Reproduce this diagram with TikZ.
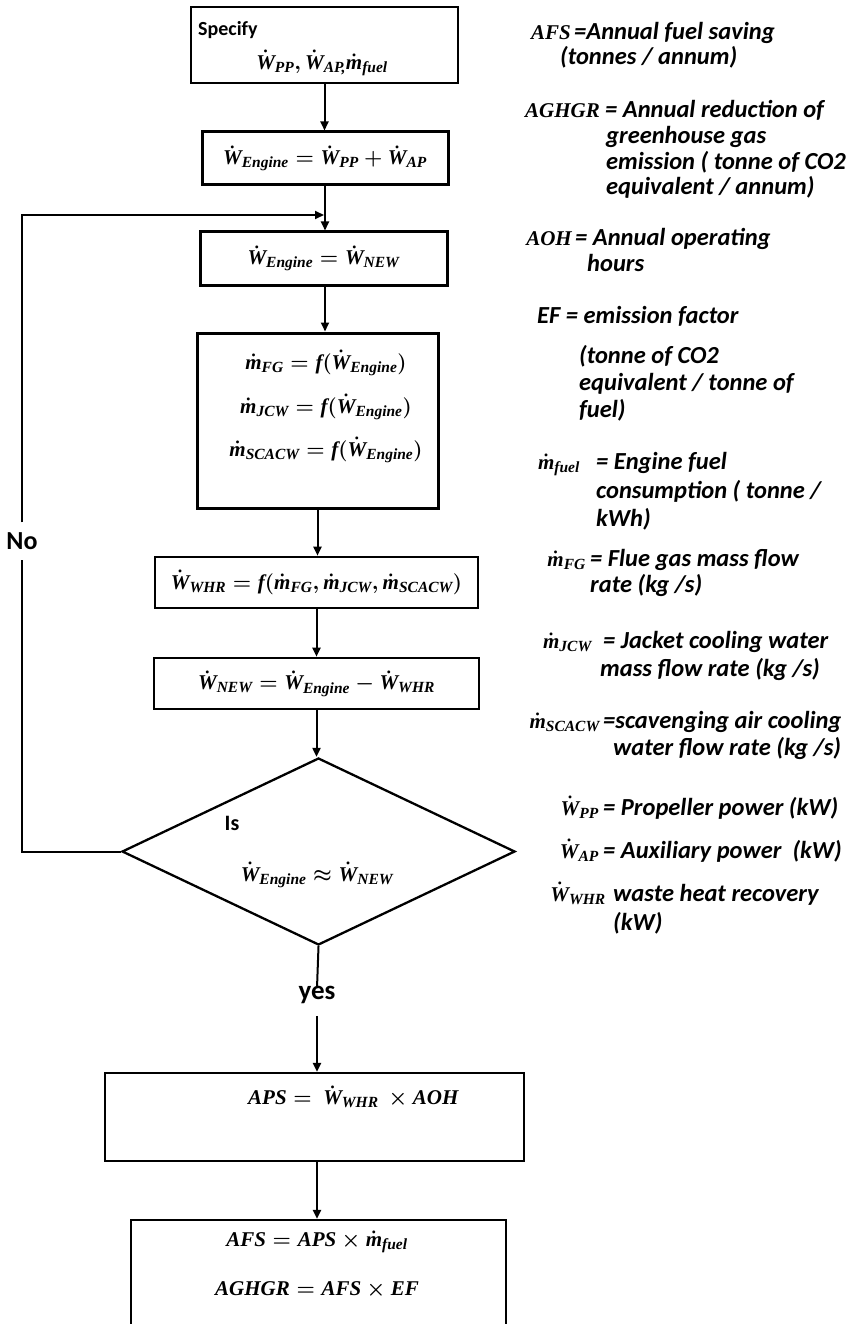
\RequirePackage{fix-cm}
\documentclass[tikz,border=0pt]{standalone}
\usepackage{amsmath}
\usepackage[no-math]{fontspec}
\setmainfont{Carlito}
% serif bold italic for the quantities in the formulas
\newfontfamily\qtyfont{Liberation Serif}
\DeclareMathSizes{21}{21}{15.5}{11}
\usetikzlibrary{arrows.meta,shapes.geometric}

\newcommand\mrm[1]{\text{\qtyfont\bfseries\itshape #1}}
\newcommand\powW[1]{\dot{\mrm{W}}_{\mrm{#1}}}
\newcommand\flowm[1]{\dot{\mrm{m}}_{\mrm{#1}}}

\begin{document}
\begin{tikzpicture}[x=1pt,y=-1pt,
  box/.style={draw, line width=2.6pt, inner sep=0pt},
  flow/.style={line width=2pt, -{Triangle[length=9pt,width=8pt]}},
  link/.style={line width=2pt},
  mathf/.style={font=\fontsize{21}{24}\selectfont\boldmath, inner sep=0pt},
  symf/.style={font=\fontsize{21}{24}\selectfont\boldmath, inner sep=0pt, anchor=base east},
  legf/.style={font=\fontsize{24.5}{28}\selectfont\bfseries\itshape, inner sep=0pt, anchor=base west},
  tagf/.style={font=\bfseries, inner sep=0pt}]
\useasboundingbox (0,0) rectangle (861,1324);
\clip (0,0) rectangle (861,1324);

% ---------------- main chain of the flowchart ----------------
\node[box, line width=2.2pt, minimum width=267pt, minimum height=76pt] (spec) at (324.5,45) {};
\node[tagf, anchor=west, font=\fontsize{20}{24}\selectfont\bfseries] (spectxt) at (198,30) {Specify};
\node[mathf] (specvars) at (322,63) {$\powW{PP}, \powW{AP,}\flowm{fuel}$};

\node[box, line width=3pt, minimum width=246pt, minimum height=53pt, mathf] (eng) at (325,158.5)
  {$\powW{Engine} = \powW{PP} + \powW{AP}$};

\node[box, line width=3pt, minimum width=247pt, minimum height=53pt, mathf] (upd) at (323.5,258.5)
  {$\powW{Engine} = \powW{NEW}$};

\node[box, line width=3pt, minimum width=241pt, minimum height=175pt] (flows) at (317.5,420.5) {};
\node[mathf] (fg) at (326,363) {$\flowm{FG} = \mrm{f}(\powW{Engine})$};
\node[mathf] (jcw) at (326,407) {$\flowm{JCW} = \mrm{f}(\powW{Engine})$};
\node[mathf] (scacw) at (326,450) {$\flowm{SCACW} = \mrm{f}(\powW{Engine})$};

\node[box, minimum width=323pt, minimum height=51pt, mathf] (whr) at (316.5,582.5)
  {$\powW{WHR} = \mrm{f}(\flowm{FG}, \flowm{JCW}, \flowm{SCACW})$};

\node[box, minimum width=325pt, minimum height=51pt, mathf] (new) at (316.5,683.5)
  {$\powW{NEW} = \powW{Engine} - \powW{WHR}$};

\node[draw, diamond, line width=2.3pt, minimum width=393pt, minimum height=187pt, inner sep=0pt] (test) at (318.5,851.5) {};
\node[tagf, font=\fontsize{22}{26}\selectfont\bfseries] (is) at (232,823) {Is};
\node[mathf] (cond) at (317,875) {$\powW{Engine} \approx \powW{NEW}$};

\node[tagf, font=\fontsize{27}{32}\selectfont\bfseries] (yes) at (317,995) {yes};
\node[tagf, font=\fontsize{26}{30}\selectfont\bfseries] (no) at (22,541) {No};

\node[box, line width=2.2pt, minimum width=419pt, minimum height=88pt] (aps) at (314.5,1117) {};
\node[mathf, anchor=west] (apstxt) at (248,1097) {$\mrm{APS} = \ \powW{WHR}\ \times \mrm{AOH}$};

\node[box, line width=2.2pt, minimum width=375pt, minimum height=240pt] (afs) at (318.5,1340) {};
\node[mathf] (afseq) at (317,1242) {$\mrm{AFS} = \mrm{APS} \times \flowm{fuel}$};
\node[mathf] (aghgreq) at (317,1290) {$\mrm{AGHGR} = \mrm{AFS} \times \mrm{EF}$};

% ---------------- connectors ----------------
\coordinate (loop) at (22,215);
\draw[flow] (spec.south) -- (spec.south |- eng.north);
\draw[flow] (eng.south) -- (eng.south |- upd.north);
\draw[flow] (upd.south) ++(1.5,0) -- ([xshift=1.5pt]upd.south |- flows.north);
\draw[flow] (flows.south) -- (flows.south |- whr.north);
\draw[flow] (whr.south) -- (whr.south |- new.north);
\draw[flow] (new.south) -- (new.south |- test.north);
\draw[link] (test.south) -- ([yshift=-2pt]yes.north);
\draw[flow] ([yshift=-12pt]yes.south) -- (yes.south |- aps.north);
\draw[flow] (aps.south) ++(2.5,0) -- ([xshift=2.5pt]aps.south |- afs.north);
\draw[link] (test.west) -- (test.west -| no.south) -- ([yshift=-10pt]no.south);
\draw[flow, shorten >=1pt] ([yshift=10pt]no.north) -- (loop) -- (loop -| eng.south);

% ---------------- legend ----------------
\node[symf] (s1) at (571,40) {$\mrm{AFS}$};
\node[legf] (t1) at (574,40) {=Annual fuel saving};
\node[legf] (t1b) at (560,65) {(tonnes / annum)};
\node[symf] (s2) at (600,118) {$\mrm{AGHGR}$};
\node[legf] (t2) at (605,118) {= Annual reduction of};
\node[legf] (t2b) at (606,144) {greenhouse gas};
\node[legf] (t2c) at (606,170) {emission ( tonne of CO2};
\node[legf] (t2d) at (606,195) {equivalent / annum)};
\node[symf] (s3) at (572,246) {$\mrm{AOH}$};
\node[legf] (t3) at (575,246) {= Annual operating};
\node[legf] (t3b) at (587,271) {hours};
\node[legf] (t4) at (537,323) {EF = emission factor};
\node[legf] (t4b) at (579,363) {(tonne of CO2};
\node[legf] (t4c) at (579,390) {equivalent / tonne of};
\node[legf] (t4d) at (579,417) {fuel)};
\node[symf] (s5) at (580,469) {$\flowm{fuel}$};
\node[legf] (t5) at (596,469) {= Engine fuel};
\node[legf] (t5b) at (596,498) {consumption ( tonne /};
\node[legf] (t5c) at (596,526) {kWh)};
\node[symf] (s6) at (586,566) {$\flowm{FG}$};
\node[legf] (t6) at (590,566) {= Flue gas mass flow};
\node[legf] (t6b) at (590,592) {rate (kg /s)};
\node[symf] (s7) at (592,648) {$\flowm{JCW}$};
\node[legf] (t7) at (603,648) {= Jacket cooling water};
\node[legf] (t7b) at (600,676) {mass flow rate (kg /s)};
\node[symf] (s8) at (600,728) {$\flowm{SCACW}$};
\node[legf] (t8) at (603,728) {=scavenging air cooling};
\node[legf] (t8b) at (613,755) {water flow rate (kg /s)};
\node[symf] (s9) at (599,815) {$\powW{PP}$};
\node[legf] (t9) at (603,815) {= Propeller power (kW)};
\node[symf] (s10) at (599,858) {$\powW{AP}$};
\node[legf] (t10) at (603,858) {= Auxiliary power~ (kW)};
\node[symf] (s11) at (606,901) {$\powW{WHR}$};
\node[legf] (t11) at (613,901) {waste heat recovery};
\node[legf] (t11b) at (613,930) {(kW)};
\end{tikzpicture}
\end{document}
